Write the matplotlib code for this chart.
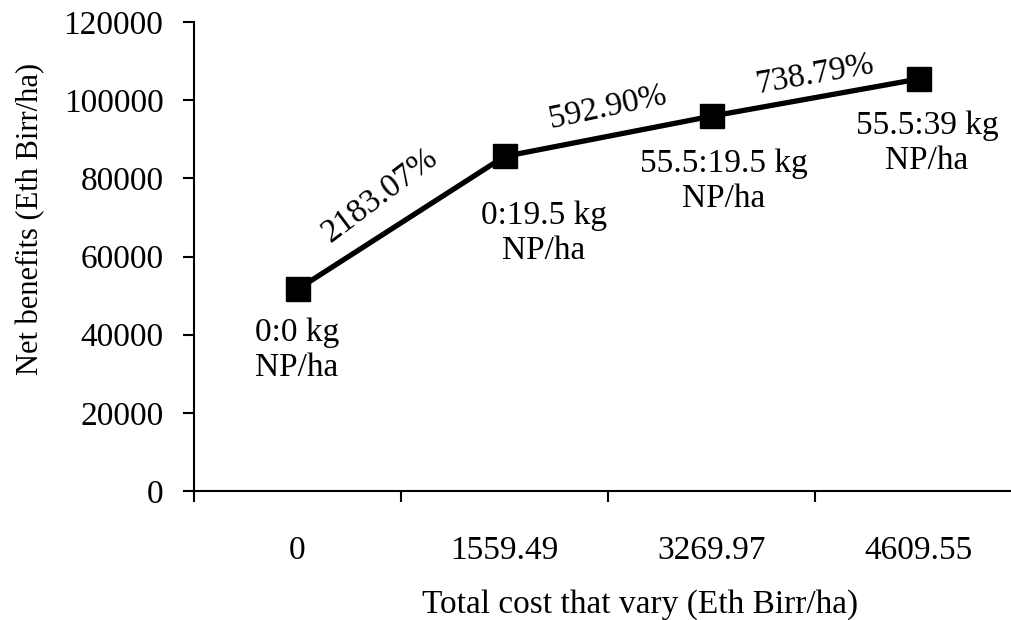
import matplotlib
matplotlib.use("Agg")
import matplotlib.pyplot as plt
from matplotlib.ticker import FixedLocator, NullFormatter

plt.rcParams['font.family'] = ['Liberation Serif', 'DejaVu Serif']

categories = ["0", "1559.49", "3269.97", "4609.55"]
net_benefits = [51600, 85600, 95900, 105400]
point_labels = ["0:0 kg\nNP/ha", "0:19.5 kg\nNP/ha", "55.5:19.5 kg\nNP/ha", "55.5:39 kg\nNP/ha"]
mrr_labels = ["2183.07%", "592.90%", "738.79%"]

FS = 24

fig = plt.figure(figsize=(10.12, 6.2), dpi=100)
ax = fig.add_axes([194/1012, 129/620, 828/1012, 469/620])

xs = [i + 0.5 for i in range(len(categories))]
ax.plot(xs, net_benefits, color='black', lw=3.8, marker='s', markersize=17, clip_on=False)

ax.set_xlim(0, len(categories))
ax.set_ylim(0, 120000)
ax.set_yticks(range(0, 120001, 20000))
ax.xaxis.set_major_locator(FixedLocator(range(0, len(categories) + 1)))
ax.xaxis.set_major_formatter(NullFormatter())
ax.xaxis.set_minor_locator(FixedLocator(xs))
ax.set_xticklabels(categories, minor=True)
ax.tick_params(axis='x', which='minor', length=0, pad=32, labelsize=FS)
ax.tick_params(axis='x', which='major', length=8, width=1.5, direction='out')
ax.tick_params(axis='y', length=8, width=1.5, direction='out', pad=14, labelsize=FS)

for s in ['top', 'right']:
    ax.spines[s].set_visible(False)
for s in ['left', 'bottom']:
    ax.spines[s].set_linewidth(1.5)

ax.set_ylabel("Net benefits (Eth Birr/ha)", fontsize=22)
ax.yaxis.set_label_coords(-0.18, 0.58)
ax.set_xlabel("Total cost that vary (Eth Birr/ha)", fontsize=FS)
ax.xaxis.set_label_coords(0.539, -0.21)

# point labels (positions)
pl_pos = [(0.498, 36100), (1.691, 66000), (2.56, 79300), (3.541, 89000)]
for (x, y), t in zip(pl_pos, point_labels):
    ax.text(x, y, t, ha='center', va='center', fontsize=FS, linespacing=1.2)

mrr_pos = [(0.899, 75600, 37), (2.0, 98200, 12), (3.0, 106600, 10)]
for (x, y, r), t in zip(mrr_pos, mrr_labels):
    ax.text(x, y, t, ha='center', va='center', fontsize=FS, rotation=r, rotation_mode='anchor')

fig.savefig("out.png", dpi=100)
